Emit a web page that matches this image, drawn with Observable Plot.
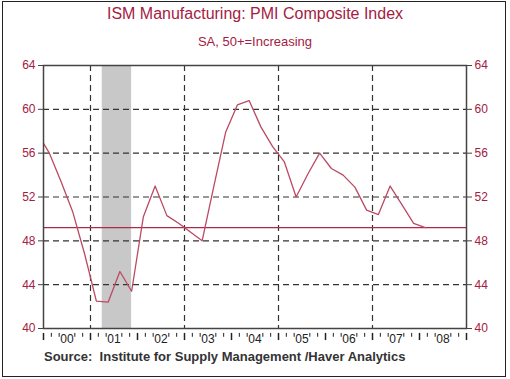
<!DOCTYPE html>
<html>
<head>
<meta charset="utf-8">
<script src="https://cdn.jsdelivr.net/npm/d3@7"></script>
<script src="https://cdn.jsdelivr.net/npm/@observablehq/plot@0.6"></script>
<style>
  body { margin: 0; background: #fff; }
  #page { position: relative; width: 510px; height: 379px; overflow: hidden; font-family: "Liberation Sans", Arial, sans-serif; }
  #border { position: absolute; left: 2px; top: 1px; width: 502px; height: 374px; border: 1px solid #222; }
  #title { position: absolute; left: 0; width: 510px; top: 5px; text-align: center; font-size: 16px; color: #a5203f; }
  #subtitle { position: absolute; left: 0; width: 510px; top: 34px; text-align: center; font-size: 13px; color: #a5203f; }
  #chart { position: absolute; left: 0; top: 50px; }
  #source { position: absolute; left: 44px; top: 349px; font-size: 13px; font-weight: bold; color: #333; white-space: pre; }
</style>
</head>
<body>
<div id="page">
  <div id="border"></div>
  <div id="title">ISM Manufacturing: PMI Composite Index</div>
  <div id="subtitle">SA, 50+=Increasing</div>
  <div id="chart"></div>
  <div id="source">Source:  Institute for Supply Management /Haver Analytics</div>
</div>
<script>
// Quarterly PMI (quarter averages)
const quarters = ["1999Q4",
  "2000Q1","2000Q2","2000Q3","2000Q4",
  "2001Q1","2001Q2","2001Q3","2001Q4",
  "2002Q1","2002Q2","2002Q3","2002Q4",
  "2003Q1","2003Q2","2003Q3","2003Q4",
  "2004Q1","2004Q2","2004Q3","2004Q4",
  "2005Q1","2005Q2","2005Q3","2005Q4",
  "2006Q1","2006Q2","2006Q3","2006Q4",
  "2007Q1","2007Q2","2007Q3","2007Q4",
  "2008Q1"];
const pmi = [57.8,
  56.0, 53.4, 50.6, 46.8,
  42.5, 42.4, 45.2, 43.4,
  50.2, 53.0, 50.3, 49.6,
  48.8, 48.0, 53.0, 57.9,
  60.4, 60.8, 58.4, 56.6,
  55.2, 52.0, 54.1, 56.0,
  54.6, 54.0, 52.9, 50.8,
  50.4, 53.0, 51.3, 49.6,
  49.2];
const latest = [49.2];
const recession = [{start: 2001.25, end: 2001.875}];
const years = [2000, 2001, 2002, 2003, 2004, 2005, 2006, 2007, 2008];
const yearLabels = ["00", "01", "02", "03", "04", "05", "06", "07", "08"];
const yTicks = [40, 44, 48, 52, 56, 60, 64];
const yGrid = [44, 48, 52, 56, 60];
const xGrid = [2001, 2003, 2005, 2007];

const data = quarters.map((q, i) => ({
  t: +q.slice(0, 4) + (+q.slice(5) - 0.5) / 4,
  v: pmi[i]
}));
const yearEdges = years.concat([2009]);
const minorTicks = years.flatMap(y => [1/6, 1/3, 2/3, 5/6].map(f => y + f));
const labelData = years.map((y, i) => ({x: y + 0.5, label: yearLabels[i]}));

const red = "#a5203f";
const lineColor = "#bb4a62";
const gridColor = "#333";

const chart = Plot.plot({
  width: 510,
  height: 300,
  marginLeft: 43,
  marginRight: 44,
  marginTop: 15,
  marginBottom: 22,
  style: {fontFamily: "'Liberation Sans', Arial, sans-serif", background: "transparent"},
  x: {domain: [2000, 2009], axis: null},
  y: {domain: [40, 64], axis: null},
  marks: [
    Plot.rectY(recession, {x1: "start", x2: "end", y1: 40, y2: 64, fill: "#c8c8c8"}),
    Plot.ruleY(yGrid, {stroke: gridColor, strokeDasharray: "6,4", strokeWidth: 1.2}),
    Plot.ruleX(xGrid, {stroke: gridColor, strokeDasharray: "6,4", strokeWidth: 1.2}),
    Plot.ruleY(latest, {stroke: "#b02a48", strokeWidth: 1.2}),
    Plot.line(data, {x: "t", y: "v", stroke: lineColor, strokeWidth: 1.3, clip: true}),
    Plot.frame({stroke: "#444", strokeWidth: 1.5}),
    // y axis ticks and labels, both sides
    Plot.axisY(yTicks, {anchor: "left", label: null, tickSize: 5, tickFormat: () => "", stroke: "#444"}),
    Plot.axisY(yTicks, {anchor: "left", label: null, tickSize: 0, tickPadding: 8, fill: red, fontSize: 12}),
    Plot.axisY(yTicks, {anchor: "right", label: null, tickSize: 5, tickFormat: () => "", stroke: "#444"}),
    Plot.axisY(yTicks, {anchor: "right", label: null, tickSize: 0, tickPadding: 8, fill: red, fontSize: 12}),
    // x axis: year ticks, minor ticks and labels below the frame
    Plot.ruleX(yearEdges, {y1: 39.55, y2: 38.9, stroke: "#222", strokeWidth: 1.5}),
    Plot.ruleX(minorTicks, {y1: 39.55, y2: 39.2, stroke: "#222", strokeWidth: 1}),
    Plot.text(labelData, {x: "x", y: 39.0, text: "label", fill: "#222", fontSize: 12})
  ]
});
document.getElementById("chart").appendChild(chart);
</script>
</body>
</html>
